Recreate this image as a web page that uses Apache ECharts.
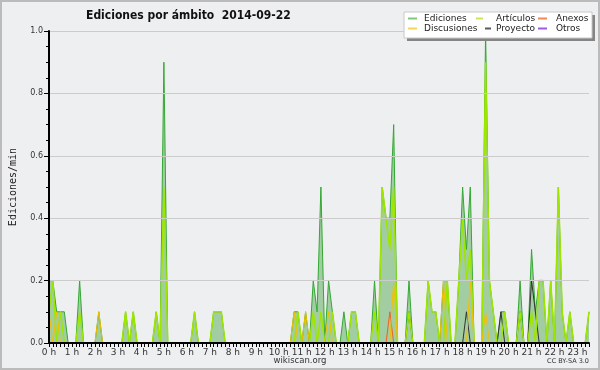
<!DOCTYPE html>
<html>
<head>
<meta charset="utf-8">
<script src="https://cdn.jsdelivr.net/npm/echarts@6/dist/echarts.min.js"></script>
<style>
html,body{margin:0;padding:0;background:#eeeff0;}
#c{width:600px;height:370px;}
</style>
</head>
<body>
<div id="c"></div>
<script>
// Hour tick labels (one per hour)
const hourLabels = ["0 h","1 h","2 h","3 h","4 h","5 h","6 h","7 h","8 h","9 h","10 h","11 h",
  "12 h","13 h","14 h","15 h","16 h","17 h","18 h","19 h","20 h","21 h","22 h","23 h"];
const yTicks = [0, 0.2, 0.4, 0.6, 0.8, 1.0];

// Edits per minute, one value per 10-minute slot, one row per hour (00:00 .. 23:30)
const ediciones = [
  0.2,0.2,0.1,0.1,0.1,0,   0,0,0.2,0,0,0,       0,0.1,0,0,0,0,       0,0,0.1,0,0.1,0,
  0,0,0,0,0.1,0,           0.9,0,0,0,0,0,       0,0,0.1,0,0,0,       0,0.1,0.1,0.1,0,0,
  0,0,0,0,0,0,             0,0,0,0,0,0,         0,0,0,0,0.1,0.1,     0,0.1,0,0.2,0.1,0.5,
  0,0.2,0.1,0,0,0.1,       0,0.1,0.1,0,0,0,     0,0.2,0,0.5,0.4,0.4, 0.7,0,0,0,0.2,0,
  0,0,0,0.2,0.1,0.1,       0,0.2,0.2,0,0,0.2,   0.5,0.3,0.5,0,0,0,   1.0,0.2,0.1,0,0.1,0.1,
  0,0,0,0.2,0,0,           0.3,0.1,0.2,0.2,0,0.2, 0,0.5,0.1,0,0.1,0, 0,0,0,0.1
];
const articulos = [
  0.1,0.2,0,0.1,0,0,       0,0,0.1,0,0,0,       0,0,0,0,0,0,         0,0,0.1,0,0.1,0,
  0,0,0,0,0.1,0,           0.5,0,0,0,0,0,       0,0,0.1,0,0,0,       0,0.1,0.1,0.1,0,0,
  0,0,0,0,0,0,             0,0,0,0,0,0,         0,0,0,0,0,0.1,       0,0,0,0.1,0,0.1,
  0,0,0.1,0,0,0,           0,0.1,0.1,0,0,0,     0,0.1,0,0.5,0.4,0.3, 0.5,0,0,0,0.1,0,
  0,0,0,0.2,0.1,0.1,       0,0,0.2,0,0,0.2,     0.4,0.2,0.3,0,0,0,   0.9,0.2,0.1,0,0,0.1,
  0,0,0,0.1,0,0,           0.1,0,0.2,0.2,0,0.2, 0,0.5,0.1,0,0.1,0,   0,0,0,0.1
];
const anexos = [
  0,0,0,0,0,0,  0,0,0,0,0,0,  0,0,0,0,0,0,  0,0,0,0,0,0,
  0,0,0,0,0,0,  0,0,0,0,0,0,  0,0,0,0,0,0,  0,0,0,0,0,0,
  0,0,0,0,0,0,  0,0,0,0,0,0,  0,0,0,0,0,0,  0,0,0,0,0,0,
  0,0,0,0,0,0,  0,0,0,0,0,0,  0,0,0,0,0,0.1, 0,0,0,0,0,0,
  0,0,0,0,0,0,  0,0,0,0,0,0,  0,0,0,0,0,0,  0,0,0,0,0,0,
  0,0,0,0,0,0,  0,0,0,0,0,0,  0,0,0,0,0,0,  0,0,0,0
];
const discusiones = [
  0.1,0,0.1,0,0,0,  0,0,0,0,0,0,  0,0.1,0,0,0,0,  0,0,0,0,0,0,
  0,0,0,0,0,0,      0,0,0,0,0,0,  0,0,0,0,0,0,    0,0,0,0,0,0,
  0,0,0,0,0,0,      0,0,0,0,0,0,  0,0,0,0,0.1,0,  0,0.1,0,0,0,0,
  0,0.1,0,0,0,0,    0,0,0,0,0,0,  0,0,0,0,0,0,    0.2,0,0,0,0,0,
  0,0,0,0,0,0,      0,0.2,0,0,0,0, 0,0,0.2,0,0,0, 0.1,0,0,0,0,0,
  0,0,0,0,0,0,      0,0,0,0,0,0,  0,0,0,0,0,0,    0,0,0,0
];
const proyecto = [
  0,0,0,0,0,0,  0,0,0,0,0,0,  0,0,0,0,0,0,  0,0,0,0,0,0,
  0,0,0,0,0,0,  0,0,0,0,0,0,  0,0,0,0,0,0,  0,0,0,0,0,0,
  0,0,0,0,0,0,  0,0,0,0,0,0,  0,0,0,0,0,0,  0,0,0,0,0,0,
  0,0,0,0,0,0,  0,0,0,0,0,0,  0,0,0,0,0,0,  0,0,0,0,0.1,0,
  0,0,0,0,0,0,  0,0,0,0,0,0,  0,0.1,0,0,0,0,  0,0,0,0,0.1,0,
  0,0,0,0.1,0,0, 0.2,0.1,0,0,0,0, 0,0,0,0,0,0, 0,0,0,0
];
const otros = [
  0,0,0,0,0,0,  0,0,0,0,0,0,  0,0,0,0,0,0,  0,0,0,0,0,0,
  0,0,0,0,0,0,  0,0,0,0,0,0,  0,0,0,0,0,0,  0,0,0,0,0,0,
  0,0,0,0,0,0,  0,0,0,0,0,0,  0,0,0,0,0,0,  0,0,0,0,0,0,
  0,0,0,0,0,0,  0,0,0,0,0,0,  0,0,0,0,0,0,  0,0,0,0,0,0,
  0,0,0,0,0,0,  0,0,0,0,0,0,  0,0,0,0,0,0,  0,0,0,0,0,0,
  0,0,0,0,0,0,  0,0,0,0,0,0,  0,0,0,0,0,0,  0,0,0,0
];

// category labels: time of each 10-minute slot
const slots = [];
for (let i = 0; i < ediciones.length; i++) {
  const h = Math.floor(i / 6), m = (i % 6) * 10;
  slots.push(h + ':' + (m < 10 ? '0' : '') + m);
}

const FONT = '"DejaVu Sans", sans-serif';
const chart = echarts.init(document.getElementById('c'), null, {renderer: 'canvas'});

function leg(name, color, left, top, w, pad) {
  return {
    data: [{name: name, icon: 'rect', itemStyle: {color: color}, lineStyle: {color: color, width: 1.5}}],
    left: left, top: top, padding: 0, itemWidth: w, itemHeight: 2,
    z: 12,
    textStyle: {fontSize: 9, color: '#222', fontFamily: FONT, padding: [0, 0, 0, pad]}
  };
}
function lineSeries(name, data, color, width, z) {
  return {
    name: name, type: 'line', data: data, symbol: 'none', z: z,
    lineStyle: {color: color, width: width}, itemStyle: {color: color},
    emphasis: {disabled: true}
  };
}

chart.setOption({
  backgroundColor: '#eeeff0',
  animation: false,
  title: {
    text: 'Ediciones por ámbito  2014-09-22',
    left: 81, top: 5,
    textStyle: {fontSize: 12, fontWeight: 'bold', color: '#111', fontFamily: '"DejaVu Sans Condensed", "DejaVu Sans", sans-serif'}
  },
  legend: [
    leg('Ediciones', '#80c880', 408, 14, 9, 2),
    leg('Artículos', '#c6ea50', 476, 14, 7, 8),
    leg('Anexos', '#f0885a', 538, 14, 9, 4),
    leg('Discusiones', '#f4d458', 408, 24, 9, 2),
    leg('Proyecto', '#5a5a5a', 485, 24, 6, 0),
    leg('Otros', '#9a5ae6', 538, 24, 9, 4)
  ],
  grid: {left: 46, right: 11, top: 31, bottom: 27},
  xAxis: {
    type: 'category', data: slots, boundaryGap: false, z: 5,
    axisLine: {lineStyle: {color: '#000', width: 2}},
    axisTick: {show: true, interval: 0, length: 4, lineStyle: {color: '#000', width: 1}},
    axisLabel: {
      interval: 5, margin: 5, fontSize: 9, color: '#333', fontFamily: FONT,
      formatter: function (v, idx) { return hourLabels[Math.floor(idx / 6)]; }
    },
    splitLine: {show: false}
  },
  yAxis: {
    type: 'value', min: yTicks[0], max: yTicks[yTicks.length - 1], interval: 0.2, z: 5,
    name: 'Ediciones/min', nameLocation: 'middle', nameGap: 31,
    nameTextStyle: {fontSize: 10, color: '#222', fontFamily: '"DejaVu Sans Mono", monospace'},
    axisLine: {show: true, lineStyle: {color: '#000', width: 2}},
    axisTick: {show: true, length: 5, lineStyle: {color: '#000'}},
    minorTick: {show: true, splitNumber: 4, length: 3, lineStyle: {color: '#000'}},
    axisLabel: {fontSize: 8, color: '#333', margin: 6, fontFamily: FONT,
      formatter: function (v) { return v.toFixed(1); }},
    splitLine: {show: true, lineStyle: {color: '#cccccc', width: 1}}
  },
  series: [
    Object.assign(lineSeries('Ediciones', ediciones, '#33a833', 1, 2),
      {areaStyle: {color: '#a2cda2', opacity: 1}}),
    lineSeries('Otros', otros, '#9a44ee', 1, 3),
    lineSeries('Proyecto', proyecto, '#333333', 1, 3),
    lineSeries('Anexos', anexos, '#f06020', 1, 3),
    lineSeries('Artículos', articulos, '#9ee600', 1.5, 3),
    lineSeries('Discusiones', discusiones, '#f2c000', 1, 4)
  ],
  graphic: [
    {type: 'rect', z: 10, shape: {x: 407, y: 15, width: 188, height: 26}, style: {fill: '#858585'}},
    {type: 'rect', z: 10, shape: {x: 404, y: 12, width: 188, height: 26}, style: {fill: '#ffffff', stroke: '#c8c8c8', lineWidth: 1}},
    {type: 'text', z: 10, left: 'center', top: 356,
      style: {text: 'wikiscan.org', fontSize: 8.5, fill: '#333', fontFamily: FONT}},
    {type: 'text', z: 10, right: 11, top: 358,
      style: {text: 'CC BY-SA 3.0', fontSize: 6.5, fill: '#333', fontFamily: FONT}},
    {type: 'rect', z: 20, silent: true, shape: {x: 1, y: 1, width: 598, height: 368},
      style: {fill: 'none', stroke: '#bbbbbb', lineWidth: 2}}
  ]
});
</script>
</body>
</html>
